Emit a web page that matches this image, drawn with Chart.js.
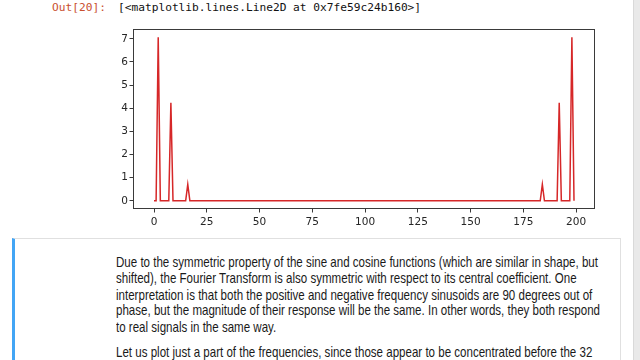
<!DOCTYPE html>
<html>
<head>
<meta charset="utf-8">
<script src="https://cdn.jsdelivr.net/npm/chart.js@4"></script>
<style>
  html, body { margin: 0; padding: 0; background: #fff; }
  body { width: 640px; height: 360px; position: relative; overflow: hidden; }
  .prompt { position: absolute; top: 1px; left: 52px; font: 11.2px "DejaVu Sans Mono", monospace; line-height: 13px; color: #c9502f; white-space: nowrap; }
  .outtext { position: absolute; top: 1px; left: 118px; font: 11.2px "DejaVu Sans Mono", monospace; line-height: 13px; color: #111; white-space: nowrap; }
  #wrap { position: absolute; left: 0; top: 0; width: 640px; height: 232px; }
  .cell { position: absolute; left: 12px; top: 238px; width: 605px; height: 140px; border: 1px solid #e0e0e0; border-left: 3px solid #42a5f5; }
  .md { position: absolute; left: 116px; font: 14.5px "Liberation Sans", Arial, sans-serif; color: #1a1a1a; white-space: nowrap; line-height: 16px; transform-origin: 0 50%; }
  .scroll { position: absolute; left: 633px; top: 0; width: 7px; height: 360px; background: #e9e9e9; border-left: 1px solid #d9d9d9; box-sizing: border-box; }
</style>
</head>
<body>
<div class="prompt">Out[20]:</div>
<div class="outtext">[&lt;matplotlib.lines.Line2D at 0x7fe59c24b160&gt;]</div>
<div id="wrap"><canvas id="fftChart" width="640" height="232"></canvas></div>
<div class="cell"></div>
<div class="md" style="top:254px">Due to the symmetric property of the sine and cosine functions (which are similar in shape, but</div>
<div class="md" style="top:270px">shifted), the Fourier Transform is also symmetric with respect to its central coefficient. One</div>
<div class="md" style="top:286.5px">interpretation is that both the positive and negative frequency sinusoids are 90 degrees out of</div>
<div class="md" style="top:302px">phase, but the magnitude of their response will be the same. In other words, they both respond</div>
<div class="md" style="top:319px">to real signals in the same way.</div>
<div class="md" style="top:343.5px">Let us plot just a part of the frequencies, since those appear to be concentrated before the 32</div>
<div class="scroll"></div>
<script>
// magnitude of the FFT, 200 coefficients (index 0..199)
const magnitude = [
  0, 0, 7.07, 0, 0, 0, 0, 0, 4.24, 0, 0, 0, 0, 0, 0, 0, 0.71, 0, 0, 0,
  0, 0, 0, 0, 0, 0, 0, 0, 0, 0, 0, 0, 0, 0, 0, 0, 0, 0, 0, 0,
  0, 0, 0, 0, 0, 0, 0, 0, 0, 0, 0, 0, 0, 0, 0, 0, 0, 0, 0, 0,
  0, 0, 0, 0, 0, 0, 0, 0, 0, 0, 0, 0, 0, 0, 0, 0, 0, 0, 0, 0,
  0, 0, 0, 0, 0, 0, 0, 0, 0, 0, 0, 0, 0, 0, 0, 0, 0, 0, 0, 0,
  0, 0, 0, 0, 0, 0, 0, 0, 0, 0, 0, 0, 0, 0, 0, 0, 0, 0, 0, 0,
  0, 0, 0, 0, 0, 0, 0, 0, 0, 0, 0, 0, 0, 0, 0, 0, 0, 0, 0, 0,
  0, 0, 0, 0, 0, 0, 0, 0, 0, 0, 0, 0, 0, 0, 0, 0, 0, 0, 0, 0,
  0, 0, 0, 0, 0, 0, 0, 0, 0, 0, 0, 0, 0, 0, 0, 0, 0, 0, 0, 0,
  0, 0, 0, 0, 0.71, 0, 0, 0, 0, 0, 0, 0, 4.24, 0, 0, 0, 0, 0, 7.07, 0
];
const xTicks = [0, 25, 50, 75, 100, 125, 150, 175, 200];
const yTicks = [0, 1, 2, 3, 4, 5, 6, 7];

// fit the markdown lines to the width seen in the notebook
const mdLines = document.querySelectorAll(".md");
const sx = 482 / mdLines[0].getBoundingClientRect().width;
mdLines.forEach((el) => { el.style.transform = "scaleX(" + sx + ")"; });

const ctx = document.getElementById("fftChart").getContext("2d");

// matplotlib style box round the plot
const spines = {
  id: "spines",
  afterDatasetsDraw(chart) {
    const a = chart.chartArea;
    const c = chart.ctx;
    c.save();
    c.strokeStyle = "#3a3a3a";
    c.lineWidth = 1;
    c.strokeRect(a.left + 0.5, a.top + 0.5, a.right - a.left - 1, a.bottom - a.top - 1);
    c.restore();
  },
};

const tickFont = { family: "DejaVu Sans", size: 10.5 };

new Chart(ctx, {
  type: "line",
  data: {
    datasets: [
      {
        data: magnitude.map((v, i) => ({ x: i, y: v })),
        borderColor: "#d62728",
        borderWidth: 1.5,
        pointRadius: 0,
        tension: 0,
        fill: false,
      },
    ],
  },
  options: {
    responsive: false,
    animation: false,
    layout: { padding: { left: 0, top: 29, right: 45, bottom: 0 } },
    scales: {
      x: {
        type: "linear",
        min: -9.95,
        max: 208.95,
        afterBuildTicks: (s) => { s.ticks = xTicks.map((v) => ({ value: v })); },
        afterFit: (s) => { s.height = 23; },
        grid: { drawOnChartArea: false, tickLength: 3.5, tickColor: "#3a3a3a" },
        border: { display: false },
        ticks: { font: tickFont, color: "#262626", padding: 3.5, maxRotation: 0 },
      },
      y: {
        type: "linear",
        min: -0.354,
        max: 7.424,
        afterBuildTicks: (s) => { s.ticks = yTicks.map((v) => ({ value: v })); },
        afterFit: (s) => { s.width = 133; },
        grid: { drawOnChartArea: false, tickLength: 3.5, tickColor: "#3a3a3a" },
        border: { display: false },
        ticks: { font: tickFont, color: "#262626", padding: 1.5 },
      },
    },
    plugins: {
      legend: { display: false },
      tooltip: { enabled: false },
    },
  },
  plugins: [spines],
});
</script>
</body>
</html>
